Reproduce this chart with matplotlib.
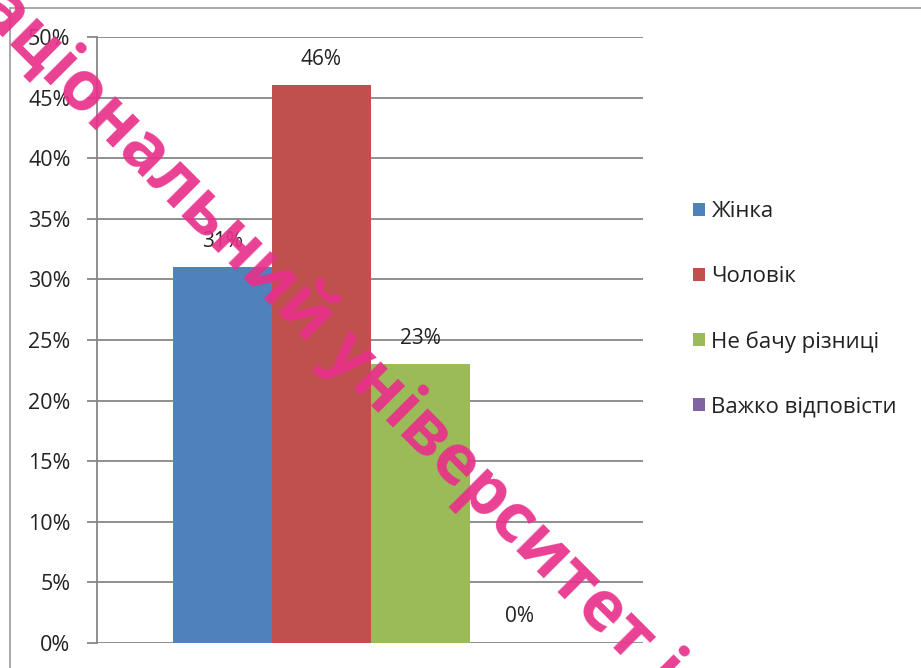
import matplotlib.pyplot as plt
from matplotlib.patches import Patch, Rectangle

plt.rcParams['font.family'] = ['Open Sans', 'DejaVu Sans']

# data
categories = ['Жінка', 'Чоловік', 'Не бачу різниці', 'Важко відповісти']
values = [0.31, 0.46, 0.23, 0.0]
labels = ['31%', '46%', '23%', '0%']
colors = ['#4F81BD', '#C0504D', '#9BBB59', '#8064A2']
watermark = 'Національний університет і'

fig = plt.figure(figsize=(9.21, 6.68), dpi=100)
ax = fig.add_axes([97/921, 1-643/668, 546/921, 606/668])

x = list(range(len(values)))
ax.bar(x, values, width=1.0, color=colors, zorder=2)
for xi, v, lab in zip(x, values, labels):
    ax.annotate(lab, (xi, v), xytext=(0, 26), textcoords='offset pixels',
                ha='center', va='center', fontsize=15, color='#222222')

ax.set_xlim(-1.268, 4.25)
ax.set_ylim(0, 0.5)
ticks = [i*0.05 for i in range(11)]
ax.set_yticks(ticks)
ax.set_yticklabels(['%d%%' % round(t*100) for t in ticks], fontsize=15.5, color='#222222')
ax.set_xticks([])
ax.yaxis.grid(True, color='#868686', linewidth=1.3, zorder=0)
ax.set_axisbelow(True)
for s in ['top', 'right', 'bottom']:
    ax.spines[s].set_visible(False)
ax.spines['left'].set_color('#868686')
ax.spines['left'].set_linewidth(1.3)
ax.tick_params(axis='y', length=7, width=1.3, color='#868686', pad=12)

handles = [Patch(facecolor=c, edgecolor='none') for c in colors]
fig.legend(handles, categories, loc='center left', bbox_to_anchor=(0.731, 0.537),
           frameon=False, fontsize=16, handlelength=0.52, handleheight=0.52,
           handletextpad=0.3, labelspacing=1.97, labelcolor='#222222')

# outer chart frame
fig.patches.append(Rectangle((10/921, -0.1), 1.2, 1.1 - 8/668, transform=fig.transFigure,
                             fill=False, edgecolor='#9a9a9a', linewidth=1.2))

# watermark
fig.text(311/921, 1-320/668, watermark, rotation=-45, rotation_mode='anchor',
         ha='center', va='center', fontsize=49.5, fontweight='bold', color='#E8308A',
         alpha=0.92, zorder=10)

fig.savefig('out.png', dpi=100)
